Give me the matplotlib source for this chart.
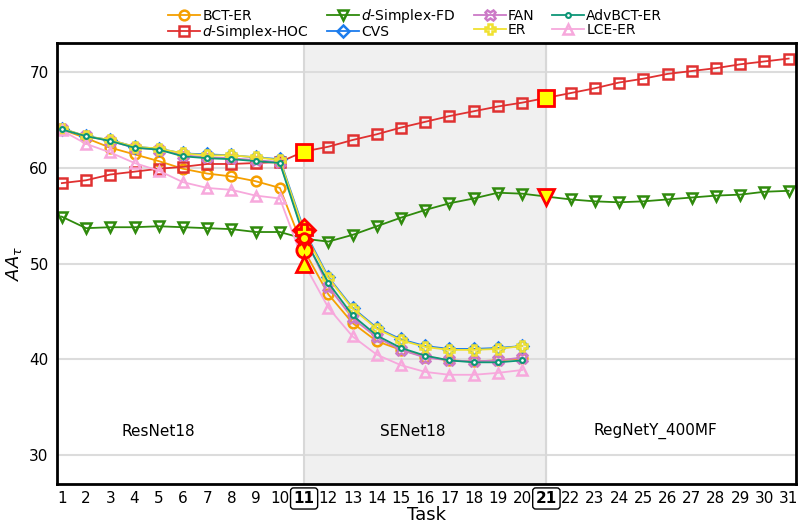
import matplotlib
matplotlib.use("Agg")
import matplotlib.pyplot as plt
import numpy as np

plt.rcParams['font.family'] = ['DejaVu Sans']

tasks = list(range(1, 32))
tasks_short = list(range(1, 21))

bct_er = [64.0, 63.1, 62.1, 61.4, 60.7, 59.9, 59.4, 59.1, 58.6, 57.9,
          51.4, 46.8, 43.8, 41.9, 41.0, 40.3, 39.9, 39.8, 39.9, 40.1]
simplex_hoc = [58.4, 58.7, 59.3, 59.6, 59.9, 60.1, 60.4, 60.4, 60.5, 60.6,
               61.7, 62.2, 62.9, 63.5, 64.2, 64.8, 65.4, 65.9, 66.4, 66.8,
               67.3, 67.8, 68.3, 68.9, 69.3, 69.8, 70.1, 70.4, 70.8, 71.1, 71.4]
simplex_fd = [54.9, 53.7, 53.8, 53.8, 53.9, 53.8, 53.7, 53.6, 53.3, 53.3,
              52.6, 52.3, 53.0, 53.9, 54.8, 55.6, 56.3, 56.8, 57.4, 57.3,
              57.0, 56.7, 56.5, 56.4, 56.5, 56.7, 56.9, 57.1, 57.2, 57.5, 57.6]
cvs = [64.1, 63.3, 62.9, 62.2, 62.0, 61.5, 61.4, 61.3, 61.1, 60.9,
       53.5, 48.6, 45.4, 43.3, 42.1, 41.4, 41.1, 41.1, 41.2, 41.4]
fan = [64.0, 63.3, 62.8, 62.1, 61.9, 61.3, 61.1, 61.0, 60.8, 60.6,
       52.9, 47.6, 44.3, 42.3, 41.0, 40.2, 39.9, 39.8, 39.9, 40.2]
er = [64.1, 63.3, 62.9, 62.2, 62.0, 61.5, 61.3, 61.3, 61.1, 60.8,
      53.3, 48.5, 45.3, 43.2, 42.0, 41.3, 41.0, 41.0, 41.1, 41.4]
advbct_er = [64.0, 63.3, 62.8, 62.1, 61.9, 61.2, 61.0, 60.9, 60.7, 60.5,
             52.7, 48.0, 44.6, 42.5, 41.2, 40.4, 39.9, 39.7, 39.7, 39.9]
lce_er = [63.9, 62.5, 61.6, 60.5, 59.7, 58.5, 57.9, 57.7, 57.1, 56.8,
          50.0, 45.4, 42.4, 40.5, 39.4, 38.7, 38.4, 38.4, 38.6, 38.9]

stage_labels = ["ResNet18", "SENet18", "RegNetY_400MF"]
stage_label_x = [5, 15.5, 25.5]
stage_switch_tasks = [11, 21]

series = [
    ("BCT-ER", tasks_short, bct_er, "#f59f00", "o", 7.0),
    ("$d$-Simplex-HOC", tasks, simplex_hoc, "#e03131", "s", 6.5),
    ("$d$-Simplex-FD", tasks, simplex_fd, "#2f8a0c", "v", 7.0),
    ("CVS", tasks_short, cvs, "#1c7ced", "D", 6.0),
    ("FAN", tasks_short, fan, "#cc79c7", "X", 7.5),
    ("ER", tasks_short, er, "#f0e130", "P", 7.5),
    ("AdvBCT-ER", tasks_short, advbct_er, "#0d9677", "o", 3.5),
    ("LCE-ER", tasks_short, lce_er, "#f7a8dc", "^", 7.0),
]

fig = plt.figure(figsize=(7.98, 5.26), dpi=100)
ax = fig.add_axes([0.0714, 0.0798, 0.926, 0.838])

ax.axvspan(stage_switch_tasks[0], stage_switch_tasks[1], color="#f0f0f0", zorder=0)
for yv in [30, 40, 50, 60, 70]:
    ax.axhline(yv, color="#dcdcdc", lw=1.5, zorder=0.5)
for xv in stage_switch_tasks:
    ax.axvline(xv, color="#d8d8d8", lw=1.5, zorder=0.5)

for name, xs, ys, col, mk, ms in series:
    if name == "AdvBCT-ER":
        ax.plot(xs, ys, color=col, lw=1.3, marker=mk, ms=ms, mfc="white",
                mec=col, mew=1.5, label=name, zorder=3)
    else:
        ax.plot(xs, ys, color=col, lw=1.3, marker=mk, ms=ms, mfc="none",
                mec=col, mew=1.8, label=name, zorder=2)

# highlight the first task of each new stage
for name, xs, ys, col, mk, ms in series:
    for t in stage_switch_tasks:
        if t in xs:
            v = ys[xs.index(t)]
            big = 11 if name != "AdvBCT-ER" else 7
            ax.plot([t], [v], marker=mk, ms=big, mfc="#ffff00", mec="#ff0000",
                    mew=2.0, ls="none", zorder=5)

for lab, xc in zip(stage_labels, stage_label_x):
    ax.text(xc, 32.5, lab, ha="center", va="center", fontsize=11)

ax.set_xlim(0.8, 31.3)
ax.set_ylim(27, 73)
ax.set_xticks(tasks)
ax.set_xticklabels([str(t) for t in tasks])
ax.set_yticks([30, 40, 50, 60, 70])
ax.tick_params(axis="both", length=0, labelsize=11)
ax.tick_params(axis="y", pad=6)
ax.tick_params(axis="x", pad=5)
for lbl in ax.get_xticklabels():
    if lbl.get_text() in ("11", "21"):
        lbl.set_fontweight("bold")
        lbl.set_bbox(dict(boxstyle="round,pad=0.2", fc="none", ec="black", lw=1))

for s in ax.spines.values():
    s.set_linewidth(2)
    s.set_color("black")

ax.set_xlabel("Task", fontsize=13, labelpad=0)
ax.set_ylabel(r"$AA_{\tau}$", fontsize=13, labelpad=4)

ax.legend(loc="lower center", bbox_to_anchor=(0.485, 1.005), ncol=4, frameon=False,
          fontsize=10, handlelength=2.3, handletextpad=0.15, columnspacing=1.3,
          labelspacing=0.0, borderaxespad=0, borderpad=0.0)

fig.savefig("out.png", dpi=100)
